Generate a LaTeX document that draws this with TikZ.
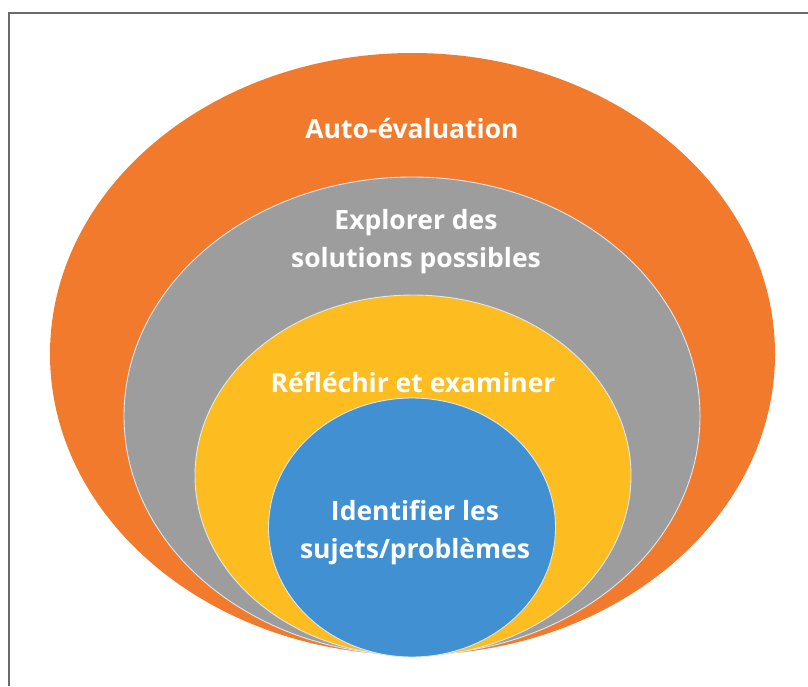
\documentclass[tikz,border=0pt]{standalone}
\usepackage{fontspec}
\setmainfont{Open Sans}
\usetikzlibrary{positioning}
\definecolor{ringorange}{HTML}{F27A2C}
\definecolor{ringgrey}{HTML}{9D9D9D}
\definecolor{ringyellow}{HTML}{FDBD21}
\definecolor{ringblue}{HTML}{4190D2}
\definecolor{ringedge}{HTML}{DCE8F4}
\definecolor{framegrey}{HTML}{6A6A6A}
\tikzset{
  ring/.style={draw=ringedge, line width=0.9pt},
  lbl/.style={text=white, align=center, inner sep=0pt,
    font=\bfseries\fontsize{26.5}{38}\selectfont},
  frame/.style={draw=framegrey, line width=1.6pt},
}

\begin{document}
\begin{tikzpicture}[x=1pt,y=-1pt]
  \useasboundingbox (0,0) rectangle (808,686);
  \draw[frame] (9,686) -- (9,13) -- (808,13);
  % rings, outer to inner
  \fill[ringorange] (412.5,354) ellipse [x radius=362.5, y radius=301];
  \filldraw[ring, fill=ringgrey] (412,416) ellipse [x radius=288, y radius=239];
  \filldraw[ring, fill=ringyellow] (413,475.5) ellipse [x radius=218, y radius=180.5];
  \filldraw[ring, fill=ringblue] (412,527.5) ellipse [x radius=143.5, y radius=129.5];
  % labels
  \node[lbl] (self) at (412,128) {Auto-évaluation};
  \node[lbl] (explore) at (416,242) {Explorer des\\solutions possibles};
  \node[lbl] (reflect) at (413,382) {Réfléchir et examiner};
  \node[lbl] (identify) at (415,533) {Identifier les\\sujets/problèmes};
\end{tikzpicture}
\end{document}
